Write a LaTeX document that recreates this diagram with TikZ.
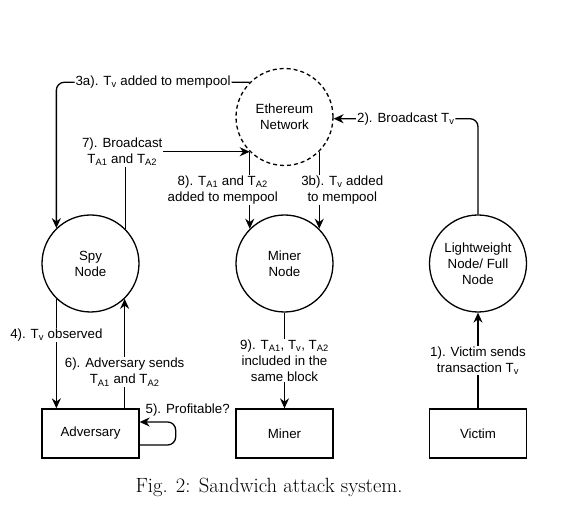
\documentclass[tikz,border=0pt]{standalone}
\usepackage{fontspec}
\newfontfamily\dibujo{Liberation Sans}
\usetikzlibrary{arrows.meta}

\begin{document}
\begin{tikzpicture}[x=1pt,y=-1pt,
        every node/.style={font=\dibujo\fontsize{13.3}{16}\selectfont},
        nodo/.style={circle,draw,line width=1.3pt,minimum size=97pt,inner sep=0pt,align=center},
        caja/.style={rectangle,draw,line width=1.3pt,minimum width=97pt,minimum height=49pt},
        flecha/.style={line width=1.3pt,-{Stealth[length=10pt,width=9pt]}},
        etiqueta/.style={fill=white,inner sep=1pt,align=center}]
        \useasboundingbox (0,0) rectangle (574,510);

        % Paso 1: Dibuja la red y los tres nodos circulares
        \node[nodo,dash pattern=on 4pt off 3pt] (eth) at (284.5,117) {Ethereum\\Network};
        \foreach \nombre/\x/\texto in {spy/90.5/{Spy\\Node}, miner/284.5/{Miner\\Node},
                light/478/{Lightweight\\Node/ Full\\Node}}
            { \node[nodo] (\nombre) at (\x,263.5) {\texto}; }

        % Paso 2: Dibuja las tres cajas de abajo
        \foreach \nombre/\x/\texto in {adv/90.5/Adversary, minerbox/284.5/Miner, victim/478/Victim}
            { \node[caja] (\nombre) at (\x,433.5) {\texto}; }

        % Paso 3: Flechas de la víctima hacia la red
        \draw[flecha] (victim.north) -- node[etiqueta] {1). Victim sends\\transaction T\textsubscript{v}} (light.south);
        \draw[flecha,rounded corners=8pt] (light.north) |- node[etiqueta,pos=0.75] {2). Broadcast T\textsubscript{v}} (eth.-2);

        % Paso 4: La red reparte T_v al espía y al minero
        \draw[flecha,rounded corners=8pt] (eth.135) -| node[etiqueta,pos=0.25] {3a). T\textsubscript{v} added to mempool} (spy.134);
        \draw[flecha] (eth.315) -- node[etiqueta,xshift=23pt] {3b). T\textsubscript{v} added\\to mempool} (miner.45);

        % Paso 5: Espía y adversario
        \draw[flecha] (spy.226) -- node[etiqueta,pos=0.33] {4). T\textsubscript{v} observed} (spy.226 |- adv.north);
        \draw[flecha,rounded corners=8pt] ([yshift=-11.5pt]adv.east) -- ++(36,0)
            |- node[pos=0.5,xshift=12pt,yshift=12pt] {5). Profitable?} ([yshift=11.5pt]adv.east);
        \draw[flecha] (adv.north -| spy.314) -- node[etiqueta,pos=0.33] {6). Adversary sends\\T\textsubscript{A1} and T\textsubscript{A2}} (spy.314);

        % Paso 6: Transacciones del adversario hasta el bloque
        \draw[flecha] (spy.45) |- node[etiqueta,pos=0.5,xshift=-3pt] {7). Broadcast\\T\textsubscript{A1} and T\textsubscript{A2}} (eth.225);
        \draw[flecha] (eth.225) -- node[etiqueta,xshift=-27pt] {8). T\textsubscript{A1} and T\textsubscript{A2}\\added to mempool} (miner.135);
        \draw[flecha] (miner.south) -- node[etiqueta] {9). T\textsubscript{A1}, T\textsubscript{v}, T\textsubscript{A2}\\included in the\\same block} (minerbox.north);

        % Paso 7: Coloca la leyenda debajo de la figura
        \node[font=\rmfamily\fontsize{20.6}{24}\selectfont,anchor=base] (leyenda) at (269,493) {Fig. 2: Sandwich attack system.};
    \end{tikzpicture}
\end{document}
